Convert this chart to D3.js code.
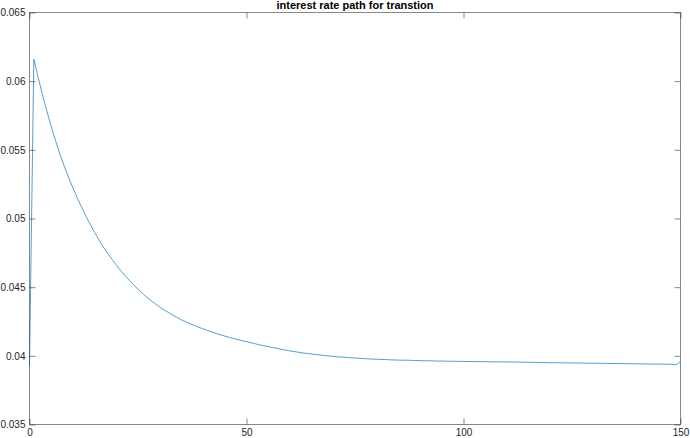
<!DOCTYPE html>
<html>
<head>
<meta charset="utf-8">
<script src="https://cdn.jsdelivr.net/npm/d3@7/dist/d3.min.js"></script>
<style>
  html, body { margin: 0; padding: 0; background: #fff; }
  svg { display: block; }
</style>
</head>
<body>
<svg id="chart" width="690" height="438"></svg>
<script>
const titleText = "interest rate path for transtion";
const xTicks = [0, 50, 100, 150];
const yTicks = [0.035, 0.04, 0.045, 0.05, 0.055, 0.06, 0.065];
const periods = d3.range(0, 151);
const rates = [
  0.03930, 0.06160, 0.06026, 0.05900, 0.05782, 0.05671, 0.05567, 0.05469, 0.05382, 0.05300,
  0.05223, 0.05150, 0.05082, 0.05017, 0.04956, 0.04899, 0.04844, 0.04793, 0.04747, 0.04703,
  0.04661, 0.04622, 0.04585, 0.04550, 0.04517, 0.04485, 0.04456, 0.04428, 0.04401, 0.04378,
  0.04356, 0.04335, 0.04316, 0.04297, 0.04279, 0.04262, 0.04248, 0.04234, 0.04221, 0.04208,
  0.04196, 0.04185, 0.04174, 0.04163, 0.04153, 0.04144, 0.04135, 0.04126, 0.04118, 0.04110,
  0.04103, 0.04096, 0.04088, 0.04080, 0.04073, 0.04067, 0.04060, 0.04054, 0.04047, 0.04042,
  0.04036, 0.04031, 0.04026, 0.04021, 0.04017, 0.04013, 0.04009, 0.04006, 0.04002, 0.03999,
  0.03996, 0.03993, 0.03991, 0.03988, 0.03986, 0.03984, 0.03982, 0.03980, 0.03978, 0.03976,
  0.03975, 0.03974, 0.03973, 0.03971, 0.03970, 0.03969, 0.03968, 0.03968, 0.03967, 0.03966,
  0.03965, 0.03964, 0.03964, 0.03963, 0.03962, 0.03962, 0.03961, 0.03961, 0.03960, 0.03960,
  0.03959, 0.03959, 0.03958, 0.03958, 0.03958, 0.03957, 0.03957, 0.03956, 0.03956, 0.03956,
  0.03956, 0.03955, 0.03955, 0.03954, 0.03953, 0.03953, 0.03952, 0.03952, 0.03951, 0.03951,
  0.03950, 0.03950, 0.03949, 0.03949, 0.03949, 0.03948, 0.03948, 0.03947, 0.03947, 0.03946,
  0.03946, 0.03946, 0.03945, 0.03945, 0.03944, 0.03944, 0.03944, 0.03943, 0.03943, 0.03942,
  0.03942, 0.03941, 0.03941, 0.03940, 0.03940, 0.03940, 0.03939, 0.03939, 0.03938, 0.03935,
  0.03960
];

const svg = d3.select("#chart");
const L = 29.5, R = 680.5, T = 12.5, B = 424.5;
const x = d3.scaleLinear().domain([0, 150]).range([L, R]);
const y = d3.scaleLinear().domain([0.035, 0.065]).range([B, T]);
const axisColor = "#262626";
const font = "'Liberation Sans', Arial, Helvetica, sans-serif";

// line
svg.append("path")
  .datum(periods.map((p, i) => [p, rates[i]]))
  .attr("fill", "none")
  .attr("stroke", "#0072BD")
  .attr("stroke-width", 0.8)
  .attr("stroke-opacity", 0.85)
  .attr("d", d3.line().x(d => x(d[0])).y(d => y(d[1])));

const fmtY = v => String(+v.toFixed(3));

function styleAxis(g, showText) {
  g.select(".domain").remove();
  g.selectAll(".tick line").attr("stroke", axisColor).attr("stroke-opacity", 0.55);
  g.selectAll(".tick text")
    .attr("fill", axisColor)
    .style("font-family", font)
    .style("font-size", "10px");
  if (!showText) g.selectAll(".tick text").remove();
}

// bottom axis (ticks inward)
svg.append("g").attr("transform", `translate(0,${B})`)
  .call(d3.axisBottom(x).tickValues(xTicks).tickSizeInner(-6).tickSizeOuter(0).tickPadding(4))
  .call(g => styleAxis(g, true));
// top axis ticks
svg.append("g").attr("transform", `translate(0,${T})`)
  .call(d3.axisTop(x).tickValues(xTicks).tickSizeInner(-6).tickSizeOuter(0))
  .call(g => styleAxis(g, false));
// left axis
svg.append("g").attr("transform", `translate(${L},0)`)
  .call(d3.axisLeft(y).tickValues(yTicks).tickFormat(fmtY).tickSizeInner(-6).tickSizeOuter(0).tickPadding(4))
  .call(g => styleAxis(g, true));
// right axis ticks
svg.append("g").attr("transform", `translate(${R},0)`)
  .call(d3.axisRight(y).tickValues(yTicks).tickSizeInner(-6).tickSizeOuter(0))
  .call(g => styleAxis(g, false));

// box
svg.append("rect")
  .attr("x", L).attr("y", T).attr("width", R - L).attr("height", B - T)
  .attr("fill", "none").attr("stroke", axisColor).attr("stroke-opacity", 0.55).attr("stroke-width", 1);

// title
svg.append("text")
  .attr("x", (L + R) / 2).attr("y", 9)
  .attr("text-anchor", "middle")
  .attr("fill", "#000")
  .style("font-family", font)
  .style("font-size", "11px")
  .style("font-weight", "bold")
  .text(titleText);
</script>
</body>
</html>
